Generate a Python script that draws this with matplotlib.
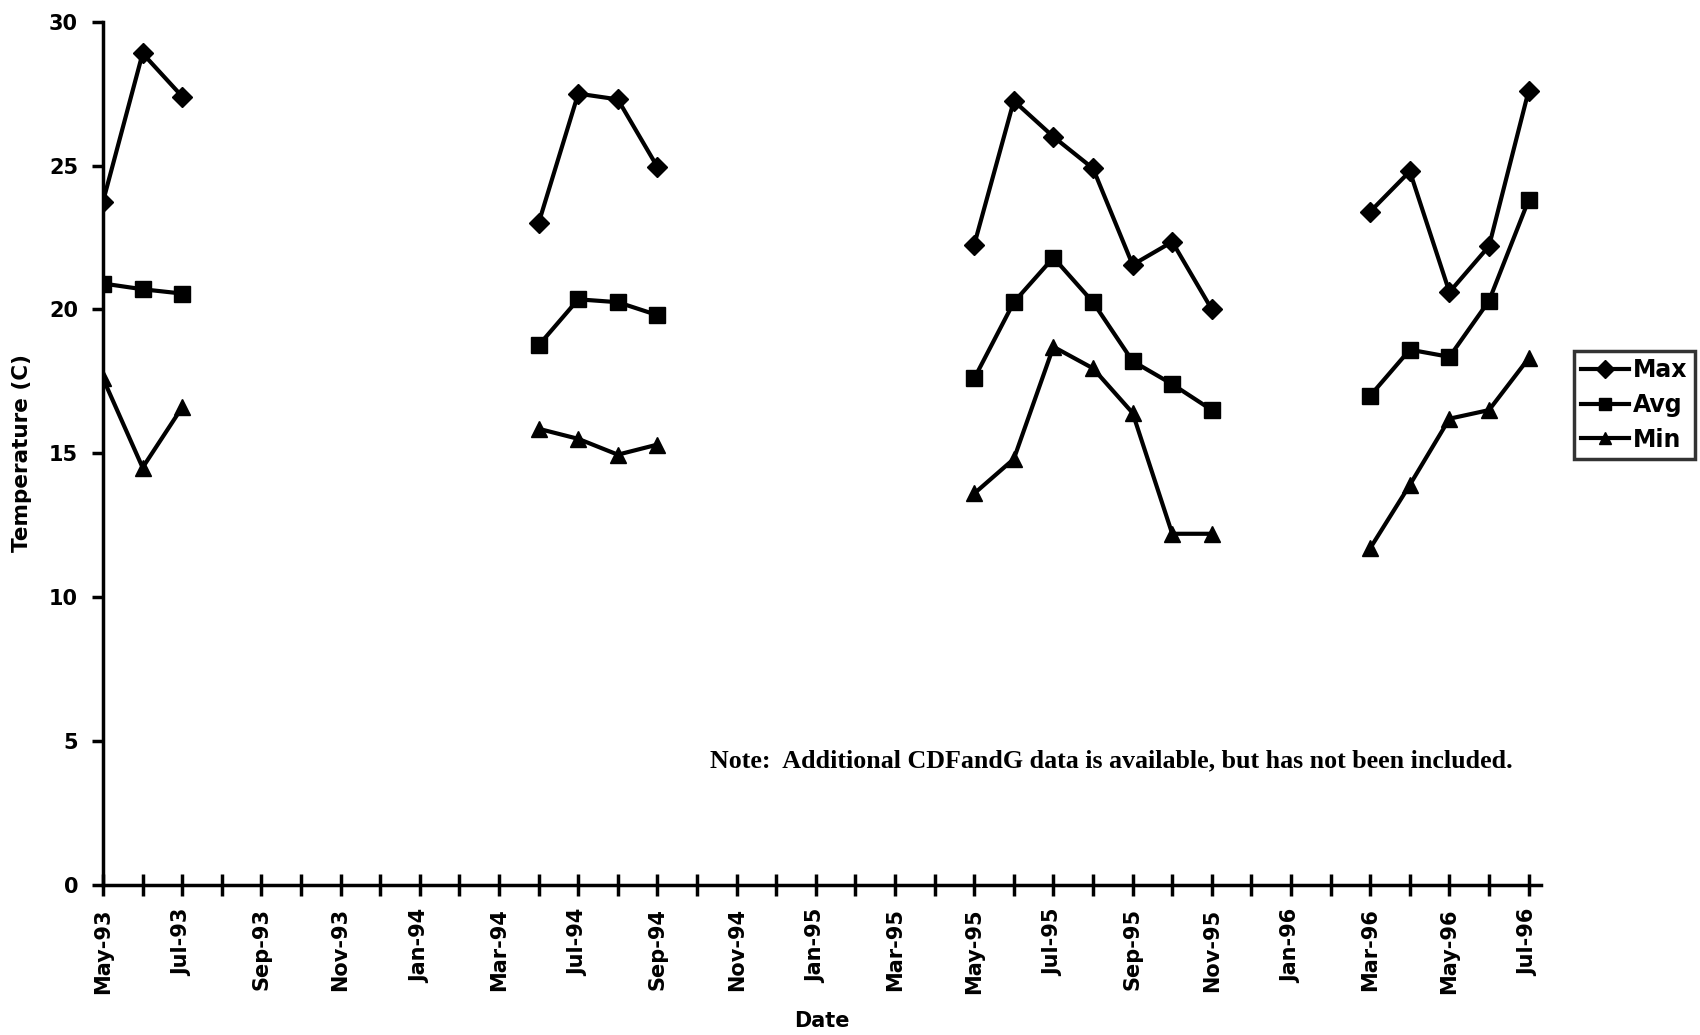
import numpy as np
import matplotlib
matplotlib.use("Agg")
from matplotlib import pyplot as plt

nan = np.nan

# category axis (one slot per sampled month, Apr/May-94 missing)
months = ["May-93", "Jun-93", "Jul-93", "Aug-93", "Sep-93", "Oct-93", "Nov-93",
          "Dec-93", "Jan-94", "Feb-94", "Mar-94", "Jun-94", "Jul-94", "Aug-94",
          "Sep-94", "Oct-94", "Nov-94", "Dec-94", "Jan-95", "Feb-95", "Mar-95",
          "Apr-95", "May-95", "Jun-95", "Jul-95", "Aug-95", "Sep-95", "Oct-95",
          "Nov-95", "Dec-95", "Jan-96", "Feb-96", "Mar-96", "Apr-96", "May-96",
          "Jun-96", "Jul-96"]

gap4 = [nan] * 7
gap3 = [nan] * 3
t_max = ([23.75, 28.9, 27.4] + [nan] * 8 + [23.0, 27.5, 27.3, 24.95] + gap4
         + [22.25, 27.25, 26.0, 24.9, 21.55, 22.35, 20.0] + gap3
         + [23.4, 24.8, 20.6, 22.2, 27.6])
t_avg = ([20.9, 20.7, 20.55] + [nan] * 8 + [18.75, 20.35, 20.25, 19.8] + gap4
         + [17.6, 20.25, 21.8, 20.25, 18.2, 17.4, 16.5] + gap3
         + [17.0, 18.6, 18.35, 20.3, 23.8])
t_min = ([17.6, 14.5, 16.6] + [nan] * 8 + [15.85, 15.5, 14.95, 15.3] + gap4
         + [13.6, 14.8, 18.7, 17.95, 16.4, 12.2, 12.2] + gap3
         + [11.7, 13.9, 16.2, 16.5, 18.3])

x = np.arange(len(months))
fnt = "DejaVu Sans"

fig = plt.figure(figsize=(17, 10.35), dpi=100)
ax = fig.add_axes([0.0606, 0.1452, 0.8386 * 36.3 / 36, 0.979 - 0.1452])

ax.plot(x, t_max, color="black", lw=3, marker="D", ms=10, label="Max")
ax.plot(x, t_avg, color="black", lw=3, marker="s", ms=11, label="Avg")
ax.plot(x, t_min, color="black", lw=3, marker="^", ms=12, label="Min")

ax.set_xlim(0, 36.3)
ax.set_ylim(0, 30)
ax.set_yticks(range(0, 31, 5))
ax.set_xticks(x)
ax.set_xticklabels([m if i % 2 == 0 else "" for i, m in enumerate(months)],
                   rotation=90, fontsize=15, fontweight="bold", family=fnt)
for lab in ax.get_yticklabels():
    lab.set_fontsize(15)
    lab.set_fontweight("bold")
    lab.set_family(fnt)

for s in ["top", "right"]:
    ax.spines[s].set_visible(False)
for s in ["left", "bottom"]:
    ax.spines[s].set_linewidth(2.5)
ax.tick_params(axis="x", direction="inout", length=16, width=2.5, pad=9)
ax.tick_params(axis="y", direction="out", length=8, width=2.5, pad=10)

ax.set_xlabel("Date", fontsize=15, fontweight="bold", family=fnt, labelpad=12)
ax.set_ylabel("Temperature (C)", fontsize=15.5, fontweight="bold", family=fnt,
              labelpad=12)

ax.text(25.45, 4.3, "Note:  Additional CDFandG data is available, but has not been included.",
        ha="center", va="center", fontsize=18.7, fontweight="bold",
        family="Liberation Serif")

leg = ax.legend(loc="center left", bbox_to_anchor=(0.926, 0.6087),
                bbox_transform=fig.transFigure,
                frameon=True, fancybox=False, edgecolor="black",
                prop={"family": fnt, "weight": "bold", "size": 17},
                handlelength=2.0, handletextpad=0.2, borderpad=0.3,
                labelspacing=0.45, borderaxespad=0)
leg.get_frame().set_linewidth(2.5)
for h in leg.legend_handles:
    h.set_markersize(9)

fig.savefig("out.png", dpi=100)
